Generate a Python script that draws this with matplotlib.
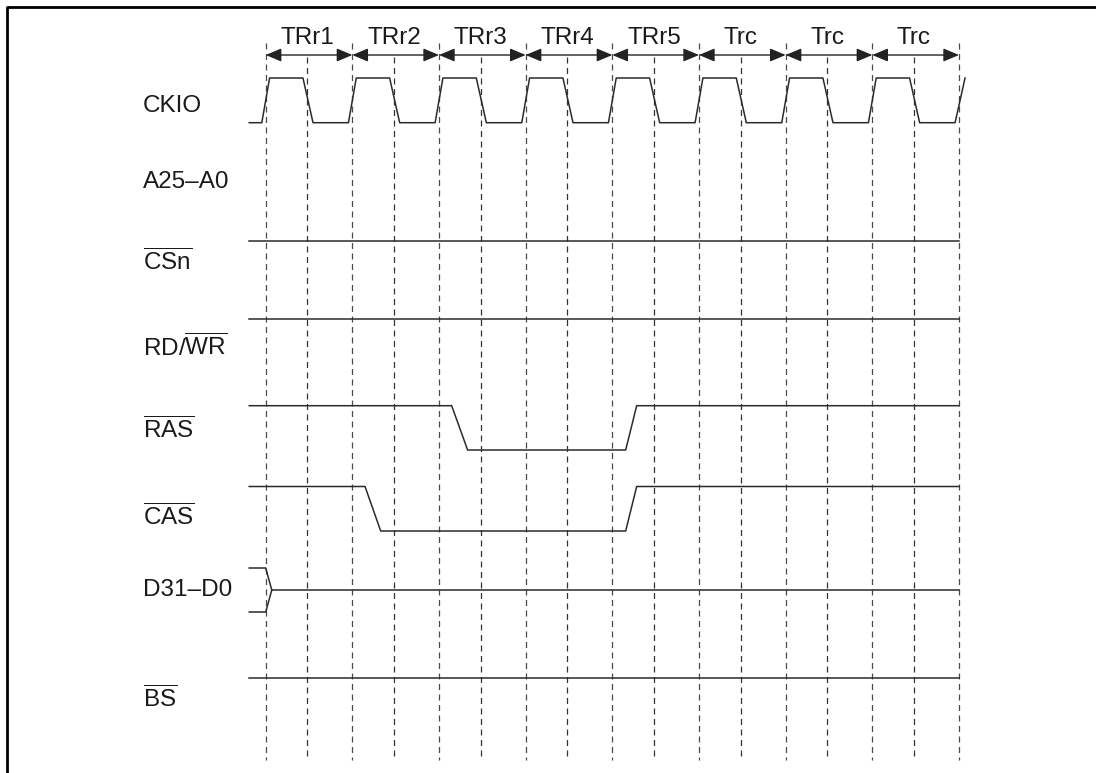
import matplotlib.pyplot as plt
from matplotlib.lines import Line2D

plt.rcParams['font.family'] = 'Liberation Sans'
plt.rcParams['mathtext.fontset'] = 'custom'
plt.rcParams['mathtext.rm'] = 'Liberation Sans'
plt.rcParams['mathtext.it'] = 'Liberation Sans:italic'
plt.rcParams['mathtext.bf'] = 'Liberation Sans:bold'

# time is in clock periods, 0 = start of TRr1
cycle_edges = [0, 1, 2, 3, 4, 5, 6, 7, 8]
half_edges = [0.48, 1.48, 2.48, 3.48, 4.48, 5.48, 6.48, 7.48]
states = ['TRr1', 'TRr2', 'TRr3', 'TRr4', 'TRr5', 'Trc', 'Trc', 'Trc']

names = ['CKIO', 'A25\u2013A0', r'$\overline{\mathrm{CSn}}$', r'RD/$\overline{\mathrm{WR}}$',
         r'$\overline{\mathrm{RAS}}$', r'$\overline{\mathrm{CAS}}$', 'D31\u2013D0',
         r'$\overline{\mathrm{BS}}$']
name_y = [106, 182, 262, 347, 430, 517, 590, 699]

t_start, t_end = -0.19, 8.0

# (time, level) for the simple control lines, 1 = high, 0 = low
csn_wave = [(t_start, 1), (t_end, 1)]
rdwr_wave = [(t_start, 1), (t_end, 1)]
ras_wave = [(t_start, 1), (2.146, 1), (2.33, 0), (4.154, 0), (4.281, 1), (t_end, 1)]
cas_wave = [(t_start, 1), (1.146, 1), (1.327, 0), (4.154, 0), (4.281, 1), (t_end, 1)]
bs_wave = [(t_start, 1), (t_end, 1)]

# vertical placement (pixels from top) for each waveform: high, low
waves = [(csn_wave, 240.7, 285), (rdwr_wave, 319, 363), (ras_wave, 405.7, 450),
         (cas_wave, 486.5, 531), (bs_wave, 677.7, 722)]
ck_hi, ck_lo = 78, 122.7
bus_top, bus_mid, bus_bot = 568, 590, 612

W, H = 1096, 773
x0_px, period_px = 265.7, 86.66
ink = '#2b2b2b'
fs = 17.5

fig = plt.figure(figsize=(W / 100, H / 100), dpi=100)
ax = fig.add_axes([0, 0, 1, 1])
ax.set_xlim(-x0_px / period_px, (W - x0_px) / period_px)
ax.set_ylim(H, 0)
ax.axis('off')

# frame (left and top only)
fig.add_artist(Line2D([7 / W, 7 / W, 1], [0, 1 - 7 / H, 1 - 7 / H],
                      transform=fig.transFigure, color='black', lw=2.0))

# dashed guides
dash = (0, (4.8, 3.6))
ax.vlines(cycle_edges, 43, 760, colors='#4a4a4a', lw=0.9, linestyles=[dash])
ax.vlines(half_edges, 57, 760, colors='#333333', lw=0.9, linestyles=[dash])

# state arrows
for k, s in enumerate(states):
    ax.annotate('', xy=(cycle_edges[k + 1], 55), xytext=(cycle_edges[k], 55),
                arrowprops=dict(arrowstyle='<|-|>,head_length=0.95,head_width=0.4',
                                mutation_scale=10, color='#222222', lw=1.0,
                                shrinkA=0, shrinkB=0))
    ax.text((cycle_edges[k] + cycle_edges[k + 1]) / 2 - 0.02, 38, s, ha='center',
            va='center', fontsize=fs, color='#1a1a1a')

# signal names
for n, y in zip(names, name_y):
    ax.text(-1.42, y, n, ha='left', va='center', fontsize=fs, color='#1a1a1a')

# clock
rise_hw, fall_hw = 0.045, 0.058
cx, cy = [t_start], [ck_lo]
for k, r in enumerate(cycle_edges):
    cx += [r - rise_hw, r + rise_hw]
    cy += [ck_lo, ck_hi]
    if k < len(half_edges):
        f = half_edges[k] + 0.008
        cx += [f - fall_hw, f + fall_hw]
        cy += [ck_hi, ck_lo]
cx[-1] = t_end + 0.07
ax.plot(cx, cy, color=ink, lw=1.1)

# control signals
for wave, hi, lo in waves:
    ax.plot([p[0] for p in wave], [hi if p[1] else lo for p in wave], color=ink, lw=1.1)

# data bus: tri-state before TRr1, then driven
ax.plot([t_start, 0, 0.07], [bus_top, bus_top, bus_mid], color=ink, lw=1.1)
ax.plot([t_start, 0, 0.07], [bus_bot, bus_bot, bus_mid], color=ink, lw=1.1)
ax.plot([0.07, t_end], [bus_mid, bus_mid], color=ink, lw=1.1)

fig.savefig('out.png', dpi=100)
